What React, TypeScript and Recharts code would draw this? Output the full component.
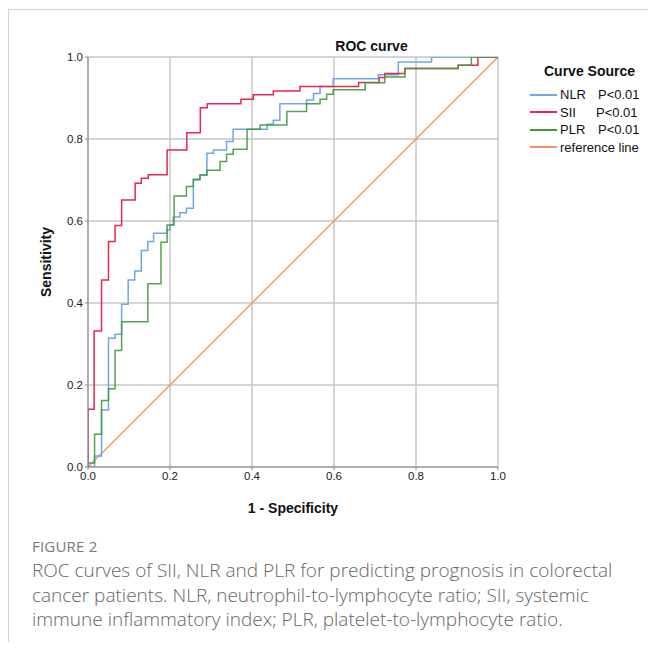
import { LineChart, Line, XAxis, YAxis, CartesianGrid, Label } from 'recharts';

// ROC points: [1 - specificity, sensitivity]
const nlrPoints: [number, number][] = [
  [0, 0], [0.016, 0.027], [0.033, 0.139], [0.05, 0.314], [0.066, 0.324], [0.082, 0.397],
  [0.098, 0.456], [0.114, 0.478], [0.13, 0.528], [0.146, 0.55], [0.16, 0.57], [0.192, 0.578],
  [0.2, 0.59], [0.208, 0.61], [0.224, 0.62], [0.24, 0.631], [0.257, 0.7], [0.273, 0.712],
  [0.29, 0.765], [0.306, 0.773], [0.338, 0.794], [0.354, 0.824], [0.437, 0.836], [0.452, 0.846],
  [0.468, 0.886], [0.533, 0.895], [0.55, 0.911], [0.566, 0.928], [0.598, 0.947], [0.708, 0.957],
  [0.757, 0.988], [0.838, 1.0], [1, 1],
];

const siiPoints: [number, number][] = [
  [0, 0], [0, 0.141], [0.015, 0.332], [0.033, 0.456], [0.05, 0.55], [0.066, 0.589],
  [0.082, 0.651], [0.115, 0.692], [0.13, 0.704], [0.147, 0.713], [0.193, 0.773], [0.241, 0.815],
  [0.274, 0.876], [0.291, 0.886], [0.373, 0.897], [0.403, 0.908], [0.452, 0.917], [0.517, 0.928],
  [0.66, 0.938], [0.71, 0.95], [0.724, 0.96], [0.773, 0.972], [0.903, 0.98], [0.951, 1.0], [1, 1],
];

const plrPoints: [number, number][] = [
  [0, 0], [0, 0.01], [0.016, 0.08], [0.033, 0.162], [0.05, 0.191], [0.066, 0.284],
  [0.082, 0.354], [0.146, 0.447], [0.178, 0.548], [0.193, 0.59], [0.21, 0.661], [0.24, 0.684],
  [0.257, 0.702], [0.273, 0.712], [0.29, 0.724], [0.322, 0.745], [0.338, 0.763], [0.354, 0.775],
  [0.388, 0.824], [0.42, 0.834], [0.485, 0.867], [0.533, 0.886], [0.566, 0.897], [0.582, 0.909],
  [0.598, 0.92], [0.676, 0.937], [0.724, 0.951], [0.773, 0.972], [0.903, 0.98], [0.935, 1.0], [1, 1],
];

const referencePoints: [number, number][] = [[0, 0], [1, 1]];

const axisTicks = [0, 0.2, 0.4, 0.6, 0.8, 1.0];

const legendItems = [
  { name: 'NLR', p: 'P<0.01', color: '#6ea6ec', gap: 38 },
  { name: 'SII', p: 'P<0.01', color: '#e3294f', gap: 36 },
  { name: 'PLR', p: 'P<0.01', color: '#3f9a3a', gap: 38 },
  { name: 'reference line', p: '', color: '#f7925a', gap: 0 },
];

const captionLines = [
  'ROC curves of SII, NLR and PLR for predicting prognosis in colorectal',
  'cancer patients. NLR, neutrophil-to-lymphocyte ratio; SII, systemic',
  'immune inflammatory index; PLR, platelet-to-lymphocyte ratio.',
];

const toRows = (pts: [number, number][]) => pts.map(([x, y]) => ({ x, y }));

const chartFont = '"Liberation Sans Narrow", "Liberation Sans", Arial, sans-serif';

export default function App() {
  return (
    <div style={{ position: 'absolute', left: 0, top: 0, width: 648, height: 650, background: '#fff', overflow: 'hidden' }}>
      {/* figure frame */}
      <div style={{ position: 'absolute', left: 8, top: 9, width: 640, height: 632, borderLeft: '1px solid #d2d2d2', borderTop: '1px solid #d2d2d2' }} />

      <div style={{ position: 'absolute', left: 0, top: 0 }}>
        <LineChart width={648} height={530} margin={{ top: 57, right: 150, bottom: 3, left: 48 }}>
          <CartesianGrid stroke="#c6c6c6" strokeWidth={1.5} />
          <XAxis
            type="number"
            dataKey="x"
            domain={[0, 1]}
            ticks={axisTicks}
            tickFormatter={(v: number) => v.toFixed(1)}
            height={60}
            stroke="#8a8a8a"
            tickSize={3}
            tick={{ fill: '#222', fontSize: 11.5, fontFamily: chartFont }}
            allowDataOverflow
          >
            <Label value="1 - Specificity" position="insideBottom" offset={14} style={{ fontWeight: 'bold', fontSize: 14, fill: '#111', fontFamily: chartFont }} />
          </XAxis>
          <YAxis
            type="number"
            domain={[0, 1]}
            ticks={axisTicks}
            tickFormatter={(v: number) => v.toFixed(1)}
            width={40}
            stroke="#8a8a8a"
            tickSize={3}
            tick={{ fill: '#222', fontSize: 11.5, fontFamily: chartFont }}
            allowDataOverflow
          >
            <Label value="Sensitivity" angle={-90} position="insideLeft" offset={-2} style={{ fontWeight: 'bold', fontSize: 14, fill: '#111', fontFamily: chartFont, textAnchor: 'middle' }} />
          </YAxis>
          <Line data={toRows(referencePoints)} dataKey="y" type="linear" stroke="#f7925a" strokeWidth={1.4} dot={false} isAnimationActive={false} />
          <Line data={toRows(nlrPoints)} dataKey="y" type="stepAfter" stroke="#6ea6ec" strokeWidth={1.5} dot={false} isAnimationActive={false} />
          <Line data={toRows(siiPoints)} dataKey="y" type="stepAfter" stroke="#e3294f" strokeWidth={1.5} dot={false} isAnimationActive={false} />
          <Line data={toRows(plrPoints)} dataKey="y" type="stepAfter" stroke="#3f9a3a" strokeWidth={1.5} strokeOpacity={0.9} dot={false} isAnimationActive={false} />
        </LineChart>
      </div>

      {/* title */}
      <div style={{ position: 'absolute', left: 300, width: 143, top: 38, textAlign: 'center', fontFamily: chartFont, fontWeight: 'bold', fontSize: 14, color: '#111' }}>
        ROC curve
      </div>

      {/* legend */}
      <div style={{ position: 'absolute', left: 544, top: 63, fontFamily: chartFont, fontWeight: 'bold', fontSize: 14, color: '#111', whiteSpace: 'nowrap' }}>
        Curve Source
      </div>
      {legendItems.map((item, i) => (
        <div key={item.name} style={{ position: 'absolute', left: 530, top: 86 + i * 17.5, height: 17, display: 'flex', alignItems: 'center', whiteSpace: 'nowrap', fontFamily: '"Liberation Sans", Arial, sans-serif', fontSize: 13, color: '#111' }}>
          <span style={{ display: 'inline-block', width: 27, height: 2, background: item.color, marginRight: 3 }} />
          <span style={{ display: 'inline-block', width: item.gap || undefined }}>{item.name}</span>
          {item.p && <span>{item.p}</span>}
        </div>
      ))}

      {/* caption */}
      <div style={{ position: 'absolute', left: 32, top: 536, fontFamily: '"Open Sans", sans-serif', fontSize: 15, color: '#7a7a7a', letterSpacing: 0.2 }}>
        FIGURE 2
      </div>
      {captionLines.map((line, i) => (
        <div key={i} style={{ position: 'absolute', left: 32, top: 557 + i * 24.5, fontFamily: '"Open Sans", sans-serif', fontSize: 19, fontWeight: 300, color: '#666', whiteSpace: 'nowrap' }}>
          {line}
        </div>
      ))}
    </div>
  );
}
